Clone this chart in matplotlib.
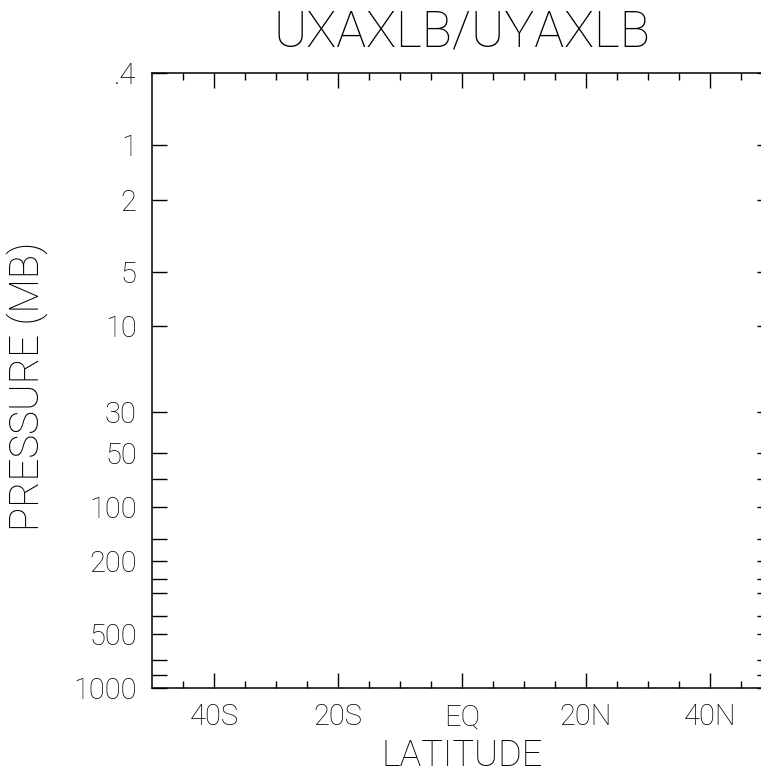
import matplotlib
matplotlib.use("Agg")
import matplotlib.pyplot as plt
from matplotlib.ticker import FixedLocator, NullFormatter

# axis extents
lat_min, lat_max = -50, 50
p_top, p_bottom = 0.4, 1000

# latitude ticks
lat_major = [-40, -20, 0, 20, 40]
lat_labels = ["40S", "20S", "EQ", "20N", "40N"]
lat_minor = [-45, -35, -30, -25, -15, -10, -5, 5, 10, 15, 25, 30, 35, 45]

# pressure levels (mb)
p_labeled = [0.4, 1, 2, 5, 10, 30, 50, 100, 200, 500, 1000]
p_labels = [".4", "1", "2", "5", "10", "30", "50", "100", "200", "500", "1000"]
p_levels = [1, 2, 5, 10, 30, 50, 70, 100, 150, 200, 250, 300, 400, 500, 700, 850, 1000]

plt.rcParams["font.family"] = ["Roboto", "DejaVu Sans"]

W, H = 761, 778
fig = plt.figure(figsize=(W / 100, H / 100), dpi=100)
ax = fig.add_axes([152 / W, 1 - 688 / H, 620 / W, 615 / H])

ax.set_xlim(lat_min, lat_max)
ax.set_yscale("log")
ax.set_ylim(p_bottom, p_top)

ax.xaxis.set_major_locator(FixedLocator(lat_major))
ax.xaxis.set_minor_locator(FixedLocator(lat_minor))
ax.set_xticklabels(lat_labels)
ax.xaxis.set_minor_formatter(NullFormatter())

# unlabeled pressure ticks all drawn, labels only at selected levels
ax.yaxis.set_major_locator(FixedLocator(p_labeled))
ax.set_yticklabels(p_labels)
ax.yaxis.set_minor_locator(FixedLocator([p for p in p_levels if p not in p_labeled]))
ax.yaxis.set_minor_formatter(NullFormatter())

for s in ax.spines.values():
    s.set_linewidth(1.1)

ax.tick_params(axis="x", which="major", direction="in", length=10.5, width=1.0,
               top=True, bottom=True, labelsize=21, pad=11, colors="black")
ax.tick_params(axis="x", which="minor", direction="in", length=5.2, width=1.0,
               top=True, bottom=True)
ax.tick_params(axis="y", which="both", direction="in", length=11, width=1.0,
               left=True, right=True, labelsize=21, pad=11)
for lab in ax.get_xticklabels() + ax.get_yticklabels():
    lab.set_fontweight("light")

ax.set_title("UXAXLB/UYAXLB", fontsize=36, fontweight="light", pad=19)
ax.set_xlabel("LATITUDE", fontsize=26, fontweight="light", labelpad=5)
ax.set_ylabel("PRESSURE (MB)", fontsize=29, fontweight="light")
ax.yaxis.set_label_coords(-0.168, 0.491)

fig.savefig("out.png", dpi=100)
